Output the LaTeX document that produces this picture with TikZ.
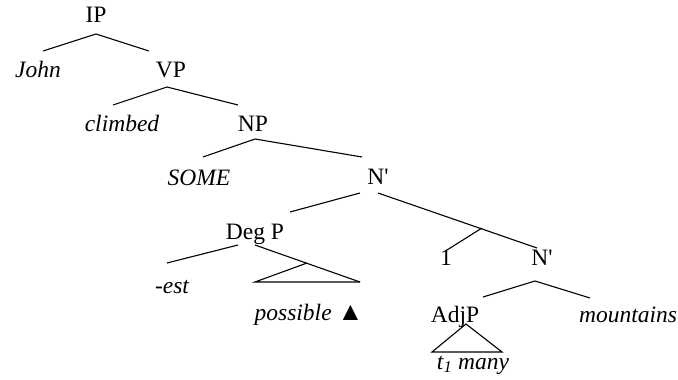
\documentclass[tikz,border=0pt]{standalone}
\usepackage{fontspec}
\setmainfont{Liberation Serif}[ItalicFont={Liberation Serif Italic}]
\begin{document}
\begin{tikzpicture}[x=1pt, y=-1pt, line width=1.1pt,
    cat/.style={inner sep=0pt, anchor=base, font=\fontsize{23.5}{28}\selectfont},
    word/.style={cat, font=\fontsize{23.5}{28}\selectfont\itshape}]
    \useasboundingbox (0,0) rectangle (678,380);
    % labels
    \node[cat] (ip) at (96,22) {IP};
    \node[word] (john) at (38,77) {John};
    \node[cat] (vp) at (171,77) {VP};
    \node[word] (climbed) at (122,131) {climbed};
    \node[cat] (np) at (253,131) {NP};
    \node[word] (some) at (199,185) {SOME};
    \node[cat] (nbar) at (378,184) {N\textquotesingle};
    \node[cat] (degp) at (255,239) {Deg P};
    \node[word] (est) at (172,293) {-est};
    \node[word] (possible) at (309,320) {possible {\upshape\fontsize{26}{28}\selectfont ▲}};
    \node[cat] (one) at (446,265) {1};
    \node[cat] (nbar2) at (542,265) {N\textquotesingle};
    \node[cat] (adjp) at (455,322) {AdjP};
    \node[word] (mountains) at (628,322) {mountains};
    \node[word] (many) at (473,369) {t\textsubscript{1} many};
    % branch points
    \coordinate (ip-a) at (96,34);
    \coordinate (john-t) at (43,51);
    \coordinate (vp-t) at (149,51);
    \coordinate (vp-a) at (167,87);
    \coordinate (climbed-t) at (113,105);
    \coordinate (np-t) at (238,105);
    \coordinate (np-a) at (255,139);
    \coordinate (some-t) at (203,157);
    \coordinate (nbar-t) at (362,157);
    \coordinate (nbar-l) at (360,193);
    \coordinate (nbar-r) at (378,193);
    \coordinate (degp-t) at (290,212);
    \coordinate (nbar2-t) at (537,248);
    \coordinate (one-a) at (482,228);
    \coordinate (one-t) at (447,250);
    \coordinate (degp-l) at (238,245);
    \coordinate (degp-r) at (255,245);
    \coordinate (est-t) at (167,263);
    \coordinate (poss-a) at (307,263);
    \coordinate (poss-l) at (255,282);
    \coordinate (poss-r) at (360,282);
    \coordinate (nbar2-a) at (535,281);
    \coordinate (adjp-t) at (483,297);
    \coordinate (mountains-t) at (590,298);
    \coordinate (many-a) at (466,324);
    \coordinate (many-l) at (432,352);
    \coordinate (many-r) at (502,352);
    % branches
    \draw (john-t) -- (ip-a) -- (vp-t);
    \draw (climbed-t) -- (vp-a) -- (np-t);
    \draw (some-t) -- (np-a) -- (nbar-t);
    \draw (degp-t) -- (nbar-l);
    \draw (nbar-r) -- (nbar2-t);
    \draw (one-a) -- (one-t);
    \draw (est-t) -- (degp-l);
    \draw (degp-r) -- (poss-r);
    \draw (poss-a) -- (poss-l) -- (poss-r);
    \draw (adjp-t) -- (nbar2-a) -- (mountains-t);
    \draw (many-l) -- (many-a) -- (many-r) -- cycle;
\end{tikzpicture}
\end{document}
